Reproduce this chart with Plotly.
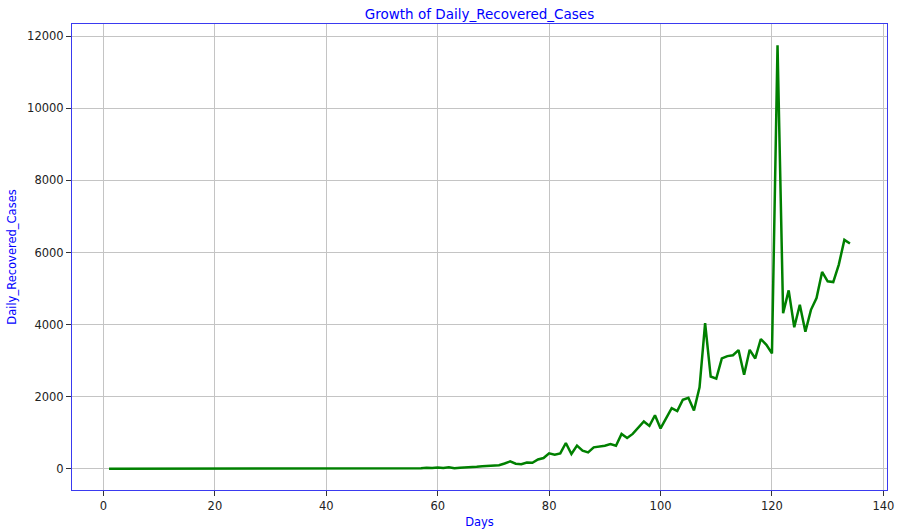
import plotly.graph_objects as go

days = list(range(1, 135))

recovered = [
    0, 0, 0, 0, 0, 0, 0, 0, 0, 0,
    0, 0, 0, 0, 1, 1, 1, 0, 0, 0,
    0, 0, 0, 0, 0, 0, 0, 0, 0, 0,
    0, 0, 0, 0, 0, 0, 0, 0, 0, 0,
    0, 1, 0, 5, 1, 3, 0, 10, 5, 3,
    7, 4, 15, 10, 20, 5, 14, 30, 20, 35,
    20, 45, 15, 30, 35, 56, 60, 74, 84, 93,
    100, 149, 205, 140, 130, 177, 167, 260, 298, 428,
    391, 428, 716, 410, 642, 502, 456, 595, 614, 642,
    689, 642, 968, 856, 968, 1130, 1315, 1190, 1485, 1120,
    1420, 1684, 1600, 1916, 1972, 1619, 2260, 4038, 2560, 2503,
    3061, 3126, 3150, 3293, 2610, 3300, 3061, 3600, 3440, 3200,
    11750, 4317, 4950, 3926, 4550, 3805, 4410, 4735, 5460, 5200,
    5180, 5665, 6350, 6250,
]

x_ticks = [0, 20, 40, 60, 80, 100, 120, 140]
y_ticks = [0, 2000, 4000, 6000, 8000, 10000, 12000]

title_text = "Growth of Daily_Recovered_Cases"
x_label = "Days"
y_label = "Daily_Recovered_Cases"

fig = go.Figure()
fig.add_trace(go.Scatter(
    x=days, y=recovered, mode="lines",
    line=dict(color="green", width=2.5),
    showlegend=False,
))

xmin, xmax = min(days), max(days)
xpad = (xmax - xmin) * 0.05
ymin, ymax = 0, max(recovered)
ypad = (ymax - ymin) * 0.05

font_family = "DejaVu Sans, sans-serif"

fig.update_layout(
    width=897, height=531,
    margin=dict(l=72, r=10, t=24, b=41, autoexpand=False),
    paper_bgcolor="white", plot_bgcolor="white",
    font=dict(family=font_family, size=11, color="#222222"),
    title=dict(text=title_text, x=0.5, xref="paper", xanchor="center",
               y=1, yref="paper", yanchor="bottom", pad=dict(b=5),
               automargin=False,
               font=dict(color="blue", size=13.5, family=font_family)),
    xaxis=dict(
        range=[xmin - xpad, xmax + xpad], automargin=False,
        tickvals=x_ticks, ticktext=[str(v) for v in x_ticks],
        showgrid=True, gridcolor="#c4c4c4", gridwidth=1,
        zeroline=False, showline=True, linecolor="#3a3af0", linewidth=1, mirror=True,
        ticks="outside", ticklen=5, tickcolor="#333333",
        ticklabeloverflow="allow",
        title=dict(text=x_label, font=dict(color="blue", size=11.5), standoff=6),
        tickfont=dict(size=11.5, color="#222222"),
    ),
    yaxis=dict(
        range=[ymin - ypad, ymax + ypad], automargin=False,
        tickvals=y_ticks, ticktext=[str(v) for v in y_ticks],
        showgrid=True, gridcolor="#c4c4c4", gridwidth=1,
        zeroline=False, showline=True, linecolor="#3a3af0", linewidth=1, mirror=True,
        ticks="outside", ticklen=5, tickcolor="#333333",
        title=dict(text=y_label, font=dict(color="blue", size=11.5), standoff=8),
        tickfont=dict(size=11.5, color="#222222"),
    ),
)

fig.write_html(
    "out.html",
    config={"displayModeBar": False},
    post_script="document.body.style.margin='0';document.body.style.overflow='hidden';",
)
